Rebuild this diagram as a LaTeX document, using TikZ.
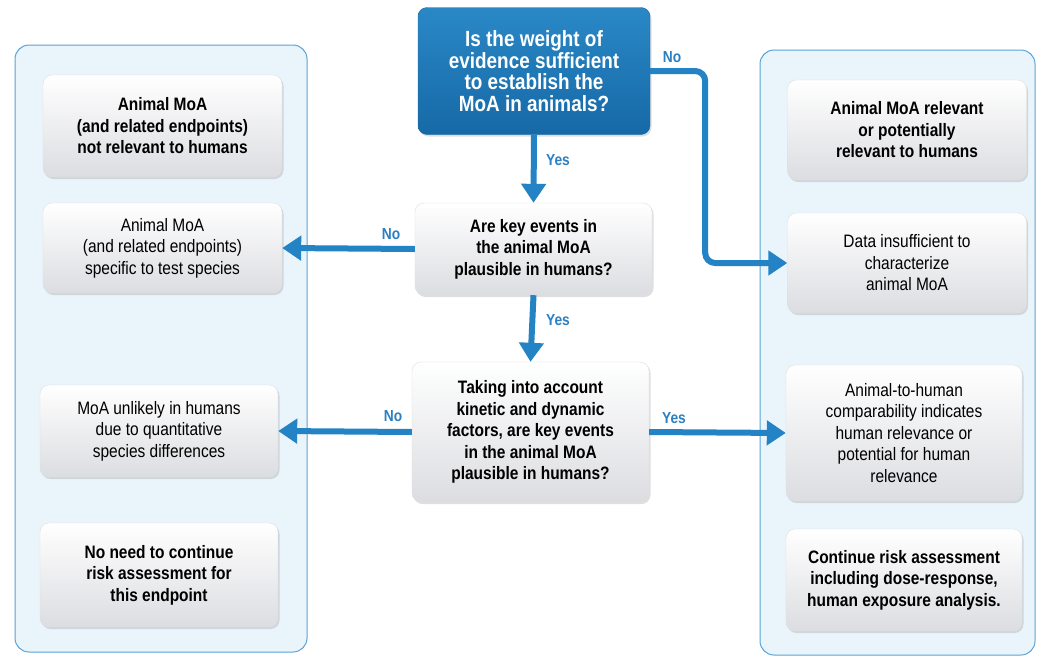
\documentclass[tikz,border=0pt]{standalone}
\usepackage{fontspec}
\setmainfont{Liberation Sans}[FakeStretch=0.86]
\usetikzlibrary{shadows,arrows.meta}
\definecolor{arrowblue}{HTML}{2383C4}
\definecolor{panelfill}{HTML}{EAF4FB}
\definecolor{panelborder}{HTML}{5AA3D6}
\definecolor{boxgray}{HTML}{DCDDE1}
\definecolor{topA}{HTML}{2A88C6}
\definecolor{topB}{HTML}{1669A6}
\definecolor{labblue}{HTML}{2A80C2}
\tikzset{
  panel/.style={draw=panelborder, fill=panelfill, rounded corners=14pt, line width=1pt},
  box/.style={rounded corners=9pt, top color=white, bottom color=boxgray, draw=gray!25,
    drop shadow={shadow xshift=1.5pt, shadow yshift=-2pt, opacity=0.25},
    align=center, text=black, font=\fontsize{18}{21.5}\selectfont, inner sep=2pt},
  bbox/.style={box, font=\fontsize{18}{21.5}\selectfont\bfseries},
  topbox/.style={rounded corners=9pt, top color=topA, bottom color=topB, draw=topB,
    drop shadow={shadow xshift=1.5pt, shadow yshift=-2pt, opacity=0.25},
    align=center, text=white, font=\fontsize{22}{21.7}\selectfont\bfseries},
  arr/.style={draw=arrowblue, line width=6pt, -{Triangle[length=19pt,width=24pt]}},
  lab/.style={text=labblue, font=\fontsize{16}{18}\selectfont\bfseries}
}
\begin{document}
\begin{tikzpicture}[x=1pt,y=-1pt]
\useasboundingbox (0,0) rectangle (1045,659);
\fill[white] (0,0) rectangle (1045,659);
% panels
\draw[panel] (15,45) rectangle (307,652);
\draw[panel] (760,50) rectangle (1035,655);
% left boxes
\node[bbox, minimum width=239pt, minimum height=102pt] (L1) at (162.5,126) {Animal MoA\\(and related endpoints)\\not relevant to humans};
\node[box, minimum width=239pt, minimum height=90pt] (L2) at (162.5,248) {Animal MoA\\(and related endpoints)\\specific to test species};
\node[box, minimum width=238pt, minimum height=92pt] (L3) at (159,431) {MoA unlikely in humans\\due to quantitative\\species differences};
\node[bbox, minimum width=238pt, minimum height=104pt] (L4) at (159,575) {No need to continue\\risk assessment for\\this endpoint};
% right boxes
\node[bbox, minimum width=239pt, minimum height=100pt] (R1) at (907,130) {Animal MoA relevant\\or potentially\\relevant to humans};
\node[box, minimum width=239pt, minimum height=100pt] (R2) at (907,263) {Data insufficient to\\characterize\\animal MoA};
\node[box, minimum width=236pt, minimum height=136pt] (R3) at (904,433) {Animal-to-human\\comparability indicates\\human relevance or\\potential for human\\relevance};
\node[bbox, minimum width=236pt, minimum height=102pt] (R4) at (904,580) {Continue risk assessment\\including dose-response,\\human exposure analysis.};
% center
\node[topbox, minimum width=232pt, minimum height=127pt] (Q1) at (534,71) {Is the weight of\\evidence sufficient\\to establish the\\MoA in animals?};
\node[bbox, minimum width=237pt, minimum height=92pt] (Q2) at (533.5,249) {Are key events in\\the animal MoA\\plausible in humans?};
\node[bbox, minimum width=237pt, minimum height=140pt] (Q3) at (530.5,432) {Taking into account\\kinetic and dynamic\\factors, are key events\\in the animal MoA\\plausible in humans?};
% arrows
\draw[arr] (Q1.south) -- (Q2.north);
\draw[arr] (Q2.south) -- (Q3.north);
\draw[arr] (Q2.west) -- (L2.east);
\draw[arr] (Q3.west) -- (L3.east);
\draw[arr] (Q3.east) -- (R3.west);
\draw[arr, rounded corners=10pt] (Q1.east) -- ++(55,0) |- (R2.west);
% labels
\node[lab] (lnotop) at (672,57) {No};
\node[lab] (lyes1) at (558,160) {Yes};
\node[lab] (lyes2) at (558,320) {Yes};
\node[lab] (lno2) at (391,234) {No};
\node[lab] (lno3) at (393,416) {No};
\node[lab] (lyes3) at (674,418) {Yes};
\end{tikzpicture}
\end{document}
